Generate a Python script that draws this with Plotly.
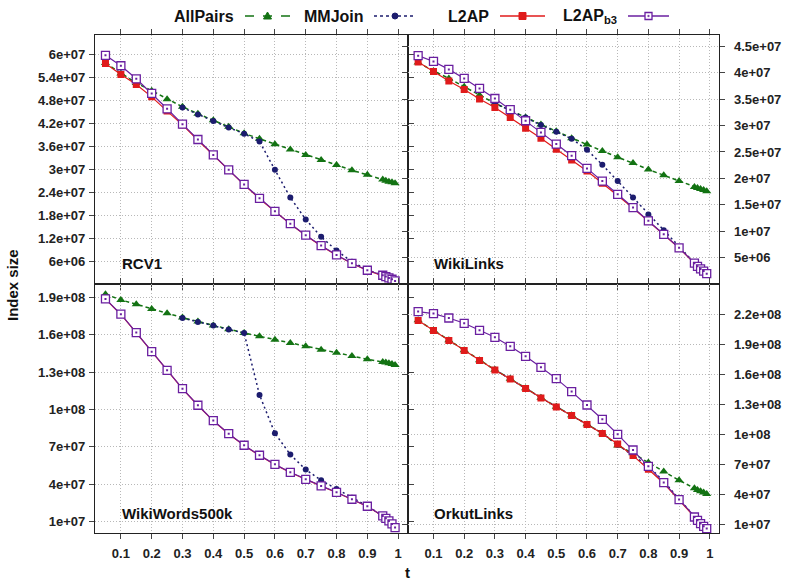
import plotly.graph_objects as go
from plotly.subplots import make_subplots

# ---------------- data ----------------
t = [0.05, 0.1, 0.15, 0.2, 0.25, 0.3, 0.35, 0.4, 0.45, 0.5, 0.55, 0.6, 0.65,
     0.7, 0.75, 0.8, 0.85, 0.9, 0.95, 0.96, 0.97, 0.98, 0.99]
t_mm = t[5:]

x_ticks = [0.1, 0.2, 0.3, 0.4, 0.5, 0.6, 0.7, 0.8, 0.9, 1.0]
x_tick_labels = ["0.1", "0.2", "0.3", "0.4", "0.5", "0.6", "0.7", "0.8", "0.9", "1"]

datasets = ["RCV1", "WikiLinks", "WikiWords500k", "OrkutLinks"]
series_names = ["AllPairs", "MMJoin", "L2AP", "L2AP<sub>b3</sub>"]

# RCV1
rcv1_allpairs = [5.77e7, 5.50e7, 5.25e7, 5.05e7, 4.83e7, 4.63e7, 4.45e7, 4.28e7, 4.11e7, 3.94e7, 3.80e7, 3.66e7,
                 3.52e7, 3.38e7, 3.25e7, 3.12e7, 2.98e7, 2.86e7, 2.74e7, 2.71e7, 2.68e7, 2.67e7, 2.64e7]
rcv1_mmjoin = [4.61e7, 4.43e7, 4.26e7, 4.09e7, 3.93e7, 3.73e7, 2.99e7, 2.27e7, 1.70e7, 1.25e7, 8.9e6, 6.0e6,
               3.9e6, 2.55e6, 2.2e6, 1.85e6, 1.5e6, 1.1e6]
rcv1_l2ap = [5.76e7, 5.47e7, 5.21e7, 4.89e7, 4.52e7, 4.16e7, 3.76e7, 3.37e7, 2.98e7, 2.60e7, 2.24e7, 1.90e7,
             1.58e7, 1.28e7, 1.01e7, 7.7e6, 5.55e6, 3.75e6, 2.45e6, 2.1e6, 1.75e6, 1.42e6, 1.0e6]
rcv1_l2apb3 = [5.97e7, 5.70e7, 5.36e7, 4.98e7, 4.58e7, 4.18e7, 3.78e7, 3.38e7, 2.99e7, 2.61e7, 2.25e7, 1.91e7,
               1.59e7, 1.29e7, 1.02e7, 7.76e6, 5.59e6, 3.77e6, 2.47e6, 2.12e6, 1.77e6, 1.43e6, 1.0e6]

# WikiLinks
wl_allpairs = [4.19e7, 4.03e7, 3.89e7, 3.73e7, 3.57e7, 3.42e7, 3.29e7, 3.15e7, 3.02e7, 2.89e7, 2.76e7, 2.64e7,
               2.52e7, 2.40e7, 2.29e7, 2.17e7, 2.06e7, 1.95e7, 1.84e7, 1.82e7, 1.80e7, 1.78e7, 1.76e7]
wl_mmjoin = [3.42e7, 3.28e7, 3.15e7, 3.01e7, 2.88e7, 2.75e7, 2.54e7, 2.26e7, 1.95e7, 1.64e7, 1.32e7, 1.02e7,
             6.95e6, 4.05e6, 3.45e6, 2.95e6, 2.55e6, 2.05e6]
wl_l2ap = [4.20e7, 4.02e7, 3.84e7, 3.68e7, 3.50e7, 3.34e7, 3.15e7, 2.95e7, 2.76e7, 2.55e7, 2.35e7, 2.14e7,
           1.91e7, 1.68e7, 1.44e7, 1.19e7, 9.4e6, 6.85e6, 3.95e6, 3.35e6, 2.85e6, 2.45e6, 1.95e6]
wl_l2apb3 = [4.32e7, 4.21e7, 4.06e7, 3.89e7, 3.70e7, 3.51e7, 3.30e7, 3.09e7, 2.87e7, 2.65e7, 2.43e7, 2.19e7,
             1.95e7, 1.70e7, 1.45e7, 1.20e7, 9.45e6, 6.9e6, 4.0e6, 3.4e6, 2.9e6, 2.5e6, 2.0e6]

# WikiWords500k
ww_allpairs = [1.924e8, 1.879e8, 1.844e8, 1.806e8, 1.772e8, 1.737e8, 1.705e8, 1.673e8, 1.643e8, 1.614e8, 1.587e8,
               1.560e8, 1.534e8, 1.507e8, 1.480e8, 1.456e8, 1.429e8, 1.403e8, 1.381e8, 1.376e8, 1.371e8, 1.365e8,
               1.357e8]
ww_mmjoin = [1.734e8, 1.702e8, 1.673e8, 1.641e8, 1.614e8, 1.117e8, 0.809e8, 0.638e8, 0.518e8, 0.432e8, 0.363e8,
             0.293e8, 0.226e8, 0.148e8, 0.129e8, 0.108e8, 0.084e8, 0.055e8]
ww_l2ap = [1.885e8, 1.762e8, 1.615e8, 1.462e8, 1.312e8, 1.165e8, 1.032e8, 0.909e8, 0.804e8, 0.711e8, 0.631e8,
           0.558e8, 0.494e8, 0.438e8, 0.385e8, 0.334e8, 0.278e8, 0.222e8, 0.145e8, 0.126e8, 0.105e8, 0.081e8,
           0.052e8]
ww_l2apb3 = [1.887e8, 1.764e8, 1.617e8, 1.464e8, 1.314e8, 1.167e8, 1.034e8, 0.911e8, 0.806e8, 0.713e8, 0.633e8,
             0.560e8, 0.496e8, 0.440e8, 0.387e8, 0.336e8, 0.280e8, 0.224e8, 0.146e8, 0.127e8, 0.106e8, 0.082e8,
             0.053e8]

# OrkutLinks
ok_allpairs = [2.14e8, 2.04e8, 1.94e8, 1.84e8, 1.74e8, 1.645e8, 1.555e8, 1.46e8, 1.365e8, 1.275e8, 1.19e8, 1.10e8,
               1.01e8, 0.887e8, 0.81e8, 0.717e8, 0.627e8, 0.54e8, 0.46e8, 0.443e8, 0.43e8, 0.417e8, 0.403e8]
ok_mmjoin = [1.645e8, 1.555e8, 1.46e8, 1.365e8, 1.275e8, 1.19e8, 1.10e8, 1.01e8, 0.895e8, 0.79e8, 0.68e8, 0.53e8,
             0.35e8, 0.175e8, 0.142e8, 0.109e8, 0.082e8, 0.058e8]
ok_l2ap = [2.137e8, 2.037e8, 1.937e8, 1.837e8, 1.737e8, 1.643e8, 1.553e8, 1.457e8, 1.363e8, 1.273e8, 1.187e8,
           1.097e8, 1.007e8, 0.903e8, 0.787e8, 0.65e8, 0.51e8, 0.343e8, 0.17e8, 0.138e8, 0.105e8, 0.078e8, 0.055e8]
ok_l2apb3 = [2.227e8, 2.207e8, 2.163e8, 2.11e8, 2.04e8, 1.97e8, 1.88e8, 1.78e8, 1.67e8, 1.557e8, 1.427e8, 1.293e8,
             1.15e8, 1.0e8, 0.843e8, 0.68e8, 0.517e8, 0.347e8, 0.173e8, 0.14e8, 0.107e8, 0.08e8, 0.057e8]

# y ticks per panel
rcv1_yticks = [6e6, 1.2e7, 1.8e7, 2.4e7, 3e7, 3.6e7, 4.2e7, 4.8e7, 5.4e7, 6e7]
rcv1_ylabels = ["6e+06", "1.2e+07", "1.8e+07", "2.4e+07", "3e+07", "3.6e+07", "4.2e+07", "4.8e+07", "5.4e+07", "6e+07"]
wl_yticks = [5e6, 1e7, 1.5e7, 2e7, 2.5e7, 3e7, 3.5e7, 4e7, 4.5e7]
wl_ylabels = ["5e+06", "1e+07", "1.5e+07", "2e+07", "2.5e+07", "3e+07", "3.5e+07", "4e+07", "4.5e+07"]
ww_yticks = [1e7, 4e7, 7e7, 1e8, 1.3e8, 1.6e8, 1.9e8]
ww_ylabels = ["1e+07", "4e+07", "7e+07", "1e+08", "1.3e+08", "1.6e+08", "1.9e+08"]
ok_yticks = [1e7, 4e7, 7e7, 1e8, 1.3e8, 1.6e8, 1.9e8, 2.2e8]
ok_ylabels = ["1e+07", "4e+07", "7e+07", "1e+08", "1.3e+08", "1.6e+08", "1.9e+08", "2.2e+08"]

# ---------------- figure ----------------
W, H = 789, 582
def px(x):
    return x / W
def py(y):
    return 1 - y / H

FONT = "Liberation Sans, Arial, Helvetica, sans-serif"
C_AP, C_MM, C_L2, C_B3 = "#137313", "#1c1c6e", "#e01b1b", "#6a1fa0"

fig = make_subplots(rows=2, cols=2, horizontal_spacing=0, vertical_spacing=0)

panels = [
    (1, 1, rcv1_allpairs, rcv1_mmjoin, rcv1_l2ap, rcv1_l2apb3),
    (1, 2, wl_allpairs, wl_mmjoin, wl_l2ap, wl_l2apb3),
    (2, 1, ww_allpairs, ww_mmjoin, ww_l2ap, ww_l2apb3),
    (2, 2, ok_allpairs, ok_mmjoin, ok_l2ap, ok_l2apb3),
]
for r, c, ap, mm, l2, b3 in panels:
    fig.add_trace(go.Scatter(x=t, y=ap, mode="lines+markers", name=series_names[0], showlegend=False,
                             line=dict(color=C_AP, width=1.5, dash="4px,3px"),
                             marker=dict(symbol="triangle-up", size=8, color=C_AP)), row=r, col=c)
    fig.add_trace(go.Scatter(x=t_mm, y=mm, mode="lines+markers", name=series_names[1], showlegend=False,
                             line=dict(color=C_MM, width=1.5, dash="2px,3px"),
                             marker=dict(symbol="circle", size=6, color=C_MM)), row=r, col=c)
    fig.add_trace(go.Scatter(x=t, y=l2, mode="lines+markers", name=series_names[2], showlegend=False,
                             line=dict(color=C_L2, width=1.2),
                             marker=dict(symbol="square", size=7, color=C_L2)), row=r, col=c)
    fig.add_trace(go.Scatter(x=t, y=b3, mode="lines+markers", name=series_names[3], showlegend=False,
                             line=dict(color=C_B3, width=1.2),
                             marker=dict(symbol="square", size=8, color="white",
                                         line=dict(width=1.3, color=C_B3))), row=r, col=c)
    # centre dot of the L2AP_b3 marker
    fig.add_trace(go.Scatter(x=t, y=b3, mode="markers", name=series_names[3], showlegend=False,
                             hoverinfo="skip",
                             marker=dict(symbol="square", size=2, color=C_B3, line=dict(width=0))),
                  row=r, col=c)

xl, xm, xr = 95, 407.7, 719.3
yt, ym, yb = 35, 284.3, 533.3
xdom = {1: [px(xl), px(xm)], 2: [px(xm), px(xr)]}
ydom = {1: [py(ym), py(yt)], 2: [py(yb), py(ym)]}

axis_common = dict(showline=True, linecolor="#222", linewidth=1.2, mirror="allticks", ticks="outside",
                   ticklen=5, tickcolor="#444", tickwidth=1, showgrid=True, gridcolor="#b8b8b8",
                   griddash="1px,2px", gridwidth=1, zeroline=False, automargin=False,
                   tickfont=dict(family=FONT, size=13, color="#222", weight="bold"))

yinfo = {
    (1, 1): (rcv1_yticks, rcv1_ylabels, [1.2e5, 6.5e7], "left"),
    (1, 2): (wl_yticks, wl_ylabels, [0, 4.71e7], "right"),
    (2, 1): (ww_yticks, ww_ylabels, [0.7e6, 2.004e8], "left"),
    (2, 2): (ok_yticks, ok_ylabels, [1e6, 2.5e8], "right"),
}
for (r, c), (tv, tl, rg, side) in yinfo.items():
    fig.update_xaxes(domain=xdom[c], range=[0.016, 1.031], tickvals=x_ticks, ticktext=x_tick_labels,
                     showticklabels=(r == 2), row=r, col=c, ticklabelstandoff=3, **axis_common)
    fig.update_yaxes(domain=ydom[r], range=rg, tickvals=tv, ticktext=tl, side=side,
                     ticklabelstandoff=(6 if side == "right" else 1), row=r, col=c, **axis_common)

# panel labels
annos = []
label_pos = [("RCV1", 120, 264), ("WikiLinks", 432, 264), ("WikiWords500k", 120, 513), ("OrkutLinks", 432, 513)]
for txt, x, y in label_pos:
    annos.append(dict(text=txt, x=px(x), y=py(y), xref="paper", yref="paper", xanchor="left", yanchor="middle",
                      showarrow=False, font=dict(family=FONT, size=15, color="#111", weight="bold")))
# axis titles
annos.append(dict(text="Index size", x=px(12), y=py(285), xref="paper", yref="paper", textangle=-90,
                  xanchor="center", yanchor="middle",
                  showarrow=False, font=dict(family=FONT, size=15, color="#111", weight="bold")))
annos.append(dict(text="t", x=px(407), y=py(572), xref="paper", yref="paper", showarrow=False,
                  xanchor="center", yanchor="middle",
                  font=dict(family=FONT, size=15, color="#111", weight="bold")))

# legend (gnuplot style: text then sample)
shapes = []
ly = 16
leg = [
    (series_names[0], 236, 245, 290, C_AP, "dash", "tri"),
    (series_names[1], 366, 374, 416, C_MM, "dot", "circ"),
    (series_names[2], 491, 500, 545, C_L2, "solid", "sq"),
    (series_names[3], 619, 628, 669, C_B3, "solid", "osq"),
]
for name, tx, x0, x1, col, dash, mk in leg:
    annos.append(dict(text=name, x=px(tx), y=py(ly), xref="paper", yref="paper", xanchor="right",
                      yanchor="middle", showarrow=False,
                      font=dict(family=FONT, size=16, color="#111", weight="bold")))
    shapes.append(dict(type="line", xref="paper", yref="paper", x0=px(x0), x1=px(x1), y0=py(ly), y1=py(ly),
                       line=dict(color=col, width=1.5, dash=dash)))
    cx = (x0 + x1) / 2
    if mk == "tri":
        path = "M {} {} L {} {} L {} {} Z".format(px(cx - 4), py(ly + 3), px(cx + 4), py(ly + 3), px(cx), py(ly - 4))
        shapes.append(dict(type="path", xref="paper", yref="paper", path=path, fillcolor=col,
                           line=dict(color=col, width=1)))
    elif mk == "circ":
        shapes.append(dict(type="circle", xref="paper", yref="paper", x0=px(cx - 3), x1=px(cx + 3),
                           y0=py(ly + 3), y1=py(ly - 3), fillcolor=col, line=dict(color=col, width=1)))
    elif mk == "sq":
        shapes.append(dict(type="rect", xref="paper", yref="paper", x0=px(cx - 3.5), x1=px(cx + 3.5),
                           y0=py(ly + 3.5), y1=py(ly - 3.5), fillcolor=col, line=dict(color=col, width=1)))
    else:
        shapes.append(dict(type="rect", xref="paper", yref="paper", x0=px(cx - 3.5), x1=px(cx + 3.5),
                           y0=py(ly + 3.5), y1=py(ly - 3.5), fillcolor="white", line=dict(color=col, width=1.3)))
        shapes.append(dict(type="rect", xref="paper", yref="paper", x0=px(cx - 0.7), x1=px(cx + 0.7),
                           y0=py(ly + 0.7), y1=py(ly - 0.7), fillcolor=col, line=dict(color=col, width=0.5)))

fig.update_layout(width=W, height=H, margin=dict(l=0, r=0, t=0, b=0), paper_bgcolor="white",
                  plot_bgcolor="white", showlegend=False, annotations=annos, shapes=shapes,
                  font=dict(family=FONT))

fig.write_html("out.html")
